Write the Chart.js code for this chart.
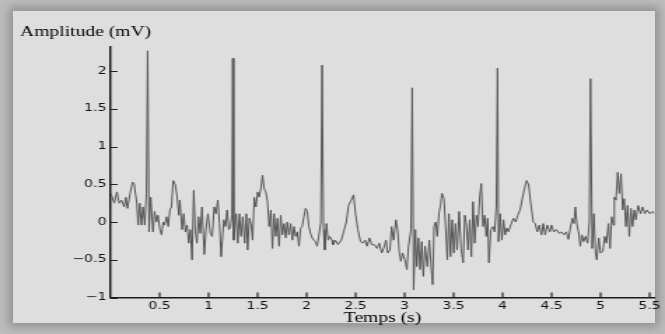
<!DOCTYPE html>
<html lang="fr">
<head>
<meta charset="UTF-8" />
<title>ECG</title>
<script src="https://cdn.jsdelivr.net/npm/chart.js@4.4.1/dist/chart.umd.min.js"></script>
<style>
  body { margin: 0; background: #c2c2c2; }
  #frame { position: relative; width: 665px; height: 334px; overflow: hidden; background: #bdbdbd; }
  #panel { position: absolute; left: 13px; top: 11px; width: 642px; height: 312px; background: #dedede;
           box-shadow: 0 0 9px 4px rgba(60,60,60,0.35); }
  #wrap { position: absolute; left: 0; top: 0; width: 475px; height: 334px; transform: scaleX(1.4); transform-origin: 0 0; }
</style>
</head>
<body>
<div id="frame">
  <div id="panel"></div>
  <div id="wrap"><canvas id="myChart" width="475" height="334"></canvas></div>
</div>

<script>
// temps (s)
var times = [
  0.003, 0.037, 0.064, 0.088, 0.111, 0.138, 0.155, 0.172, 0.199, 0.223, 0.24, 0.267, 0.28, 0.297, 0.314, 0.331, 0.348, 0.365, 0.378, 0.392,
  0.409, 0.432, 0.449, 0.469, 0.483, 0.503, 0.52, 0.537, 0.55, 0.571, 0.588, 0.605, 0.621, 0.638, 0.662, 0.679, 0.696, 0.706, 0.729, 0.746,
  0.763, 0.78, 0.797, 0.814, 0.831, 0.848, 0.865, 0.881, 0.898, 0.915, 0.932, 0.956, 0.973, 0.993, 1.017, 1.037, 1.057, 1.074, 1.094, 1.111,
  1.128, 1.155, 1.172, 1.189, 1.206, 1.223, 1.238, 1.246, 1.256, 1.28, 1.297, 1.314, 1.331, 1.348, 1.368, 1.385, 1.398, 1.415, 1.432, 1.449,
  1.466, 1.483, 1.5, 1.516, 1.533, 1.55, 1.567, 1.584, 1.601, 1.618, 1.635, 1.651, 1.668, 1.685, 1.702, 1.719, 1.736, 1.753, 1.77, 1.787,
  1.803, 1.82, 1.837, 1.854, 1.871, 1.888, 1.905, 1.922, 1.939, 1.955, 1.972, 1.989, 2.006, 2.023, 2.04, 2.057, 2.074, 2.091, 2.107, 2.124,
  2.145, 2.158, 2.172, 2.185, 2.202, 2.219, 2.236, 2.259, 2.27, 2.293, 2.32, 2.354, 2.378, 2.405, 2.428, 2.455, 2.479, 2.499, 2.523, 2.55,
  2.573, 2.597, 2.617, 2.641, 2.665, 2.692, 2.719, 2.742, 2.766, 2.786, 2.81, 2.827, 2.85, 2.867, 2.888, 2.911, 2.928, 2.945, 2.962, 2.979,
  3.002, 3.023, 3.04, 3.065, 3.077, 3.092, 3.11, 3.124, 3.141, 3.158, 3.175, 3.191, 3.208, 3.232, 3.252, 3.273, 3.286, 3.3, 3.316, 3.333,
  3.35, 3.365, 3.381, 3.401, 3.418, 3.435, 3.452, 3.468, 3.485, 3.502, 3.519, 3.536, 3.556, 3.576, 3.597, 3.614, 3.63, 3.647, 3.664, 3.681,
  3.698, 3.715, 3.732, 3.749, 3.766, 3.782, 3.799, 3.816, 3.833, 3.847, 3.86, 3.88, 3.901, 3.918, 3.935, 3.948, 3.958, 3.975, 3.992, 4.009,
  4.026, 4.043, 4.059, 4.083, 4.11, 4.134, 4.154, 4.178, 4.201, 4.222, 4.245, 4.266, 4.286, 4.313, 4.333, 4.353, 4.374, 4.397, 4.414, 4.434,
  4.455, 4.482, 4.498, 4.522, 4.549, 4.576, 4.6, 4.623, 4.65, 4.671, 4.691, 4.711, 4.728, 4.742, 4.759, 4.775, 4.792, 4.809, 4.826, 4.846,
  4.867, 4.885, 4.897, 4.914, 4.931, 4.948, 4.961, 4.981, 4.998, 5.022, 5.042, 5.059, 5.079, 5.096, 5.113, 5.13, 5.14, 5.157, 5.174, 5.191,
  5.208, 5.225, 5.241, 5.258, 5.275, 5.292, 5.309, 5.326, 5.343, 5.36, 5.383, 5.407, 5.427, 5.451, 5.474, 5.502, 5.529, 5.548
];
// amplitude (mV)
var amplitude = [
  0.38, 0.25, 0.4, 0.25, 0.29, 0.2, 0.33, 0.18, 0.38, 0.53, 0.51, 0.25, -0.04, 0.25, -0.04, 0.2, -0.04, 0.38, 2.27, -0.13,
  0.33, -0.13, 0.14, 0, 0.09, -0.1, -0.17, 0, -0.04, 0.07, -0.06, 0.16, 0.2, 0.55, 0.49, 0.33, 0.09, 0.29, -0.1, 0.11,
  -0.13, -0.04, -0.28, -0.1, -0.5, 0.42, -0.13, -0.28, 0.07, -0.15, 0.2, -0.43, -0.1, 0.11, -0.15, -0.19, 0.2, 0.11, 0.29, -0.02,
  -0.46, 0.03, -0.06, 0.16, -0.1, -0.06, 0.1, 2.17, -0.24, 0.11, -0.28, 0.11, -0.19, 0.07, -0.28, 0.11, -0.37, 0.05, -0.02, -0.24,
  0.33, 0.2, 0.4, 0.33, 0.44, 0.62, 0.44, 0.4, 0.27, -0.06, 0.16, -0.35, 0.11, -0.19, 0.05, -0.32, 0.09, -0.17, -0.02, -0.21,
  0, -0.17, -0.02, -0.24, -0.06, -0.19, -0.13, -0.32, -0.08, -0.06, 0.07, 0.18, 0.14, -0.06, -0.15, -0.21, -0.24, -0.26, -0.32, -0.19,
  0, 2.08, -0.1, -0.37, -0.02, -0.24, -0.19, -0.24, -0.3, -0.24, -0.3, -0.24, -0.13, 0, 0.22, 0.29, 0.36, 0.11, -0.1, -0.26,
  -0.28, -0.24, -0.32, -0.21, -0.3, -0.3, -0.35, -0.28, -0.41, -0.35, -0.24, -0.41, -0.37, -0.06, -0.24, 0.03, -0.1, -0.39, -0.52, -0.41,
  -0.5, -0.63, -0.32, -0.1, 1.78, -0.9, -0.1, -0.59, -0.21, -0.63, -0.26, -0.72, -0.32, -0.59, -0.24, -0.63, -0.83, -0.06, 0, -0.19,
  0.11, 0.22, 0.38, 0.31, -0.06, -0.5, 0.11, -0.46, 0.03, -0.41, -0.02, -0.37, 0.14, -0.35, -0.54, 0.09, -0.04, -0.37, 0.03, -0.46,
  0.27, -0.28, 0.09, -0.06, 0.33, 0.51, -0.06, 0.09, -0.19, 0.05, -0.54, -0.1, -0.06, -0.13, 0.2, 2.04, -0.26, 0.11, -0.24, 0.03,
  -0.17, -0.08, -0.13, -0.04, 0.05, 0, 0.09, 0.16, 0.31, 0.44, 0.55, 0.49, 0.25, 0, -0.02, -0.13, -0.04, -0.17, -0.02, -0.17,
  -0.04, -0.13, -0.04, -0.13, -0.1, -0.15, -0.13, -0.17, -0.13, -0.23, -0.08, 0.05, -0.02, 0.2, -0.04, -0.13, -0.32, -0.17, -0.26, -0.19,
  -0.28, 0, 1.9, -0.35, 0.11, -0.41, -0.5, -0.21, -0.41, -0.39, -0.19, -0.28, -0.02, -0.35, 0.07, -0.04, 0.33, 0.29, 0.66, 0.38,
  0.64, 0.16, 0.31, -0.06, 0.22, -0.19, 0.18, -0.06, 0.16, 0.03, 0.22, 0.11, 0.2, 0.11, 0.16, 0.11, 0.14, 0.11
];
var yTicks = [-1, -0.5, 0, 0.5, 1, 1.5, 2];
var xTicks = [0.5, 1, 1.5, 2, 2.5, 3, 3.5, 4, 4.5, 5, 5.5];

var pts = times.map(function (t, i) { return { x: t, y: amplitude[i] }; });

// petites graduations vers l'intérieur, comme sous matlab
var innerTicks = {
  id: 'innerTicks',
  afterDraw: function (chart) {
    var ctx = chart.ctx, a = chart.chartArea, sx = chart.scales.x, sy = chart.scales.y;
    ctx.save();
    ctx.strokeStyle = '#222';
    ctx.lineWidth = 1.2;
    ctx.beginPath();
    yTicks.forEach(function (v) {
      var py = Math.round(sy.getPixelForValue(v)) + 0.5;
      ctx.moveTo(a.left, py); ctx.lineTo(a.left + 5, py);
    });
    xTicks.forEach(function (v) {
      var px = sx.getPixelForValue(v);
      ctx.moveTo(px, a.bottom); ctx.lineTo(px, a.bottom - 5);
    });
    ctx.stroke();
    ctx.restore();
  }
};

var ctx = document.getElementById('myChart').getContext('2d');
var myChart = new Chart(ctx, {
  type: 'line',
  data: {
    datasets: [{
      data: pts,
      borderColor: '#555',
      borderWidth: 1,
      pointRadius: 0,
      tension: 0,
      fill: false
    }]
  },
  options: {
    responsive: false,
    animation: false,
    events: [],
    layout: { padding: { top: 10, left: 14.3, right: 3.6, bottom: 0 } },
    plugins: {
      legend: { display: false },
      tooltip: { enabled: false },
      title: {
        display: true,
        text: 'Amplitude (mV)',
        align: 'start',
        color: '#000',
        font: { family: 'Liberation Serif', size: 14, weight: 'normal' },
        padding: { top: 13.6, bottom: 6.6 }
      }
    },
    scales: {
      x: {
        type: 'linear',
        min: 0,
        max: 5.55,
        afterBuildTicks: function (s) { s.ticks = xTicks.map(function (v) { return { value: v }; }); },
        afterFit: function (s) { s.height = 36.5; },
        grid: { display: false, drawTicks: false },
        border: { display: true, color: '#1a1a1a', width: 1.5 },
        ticks: {
          padding: 3,
          color: '#111',
          autoSkip: false,
          maxRotation: 0,
          font: { family: 'DejaVu Sans', size: 10 },
          callback: function (v) { return String(v); }
        },
        title: {
          display: true,
          text: 'Temps (s)',
          color: '#000',
          font: { family: 'Liberation Serif', size: 14, weight: 'normal' },
          padding: { top: 0, bottom: 7.6 }
        }
      },
      y: {
        min: -1,
        max: 2.32,
        afterBuildTicks: function (s) { s.ticks = yTicks.map(function (v) { return { value: v }; }); },
        afterFit: function (s) { s.width = 64.7; },
        grid: { display: false, drawTicks: false },
        border: { display: true, color: '#1a1a1a', width: 1.5 },
        ticks: {
          padding: 3,
          color: '#111',
          font: { family: 'DejaVu Sans', size: 10 },
          callback: function (v) { return v < 0 ? '\u2212' + Math.abs(v) : String(v); }
        }
      }
    }
  },
  plugins: [innerTicks]
});
</script>
</body>
</html>
